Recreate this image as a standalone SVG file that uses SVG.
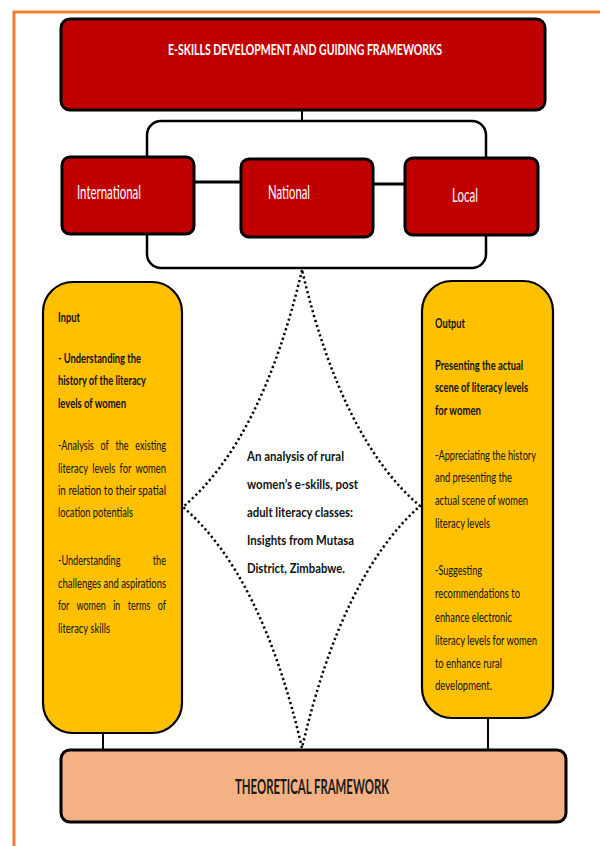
<svg xmlns="http://www.w3.org/2000/svg" width="600" height="846" viewBox="0 0 600 846">
<style>
.red{fill:#C00000;stroke:#000;stroke-width:3}
.yel{fill:#FFC000;stroke:#000;stroke-width:2.2}
.sal{fill:#F4B183;stroke:#000;stroke-width:3}
.ln{stroke:#000;stroke-width:2;fill:none}
.wt{font-family:Lato,"Liberation Sans",sans-serif;fill:#fff}
.bt{font-family:Lato,"Liberation Sans",sans-serif;fill:#111;font-size:14px}
.b{font-weight:bold}
</style>
<rect width="600" height="846" fill="#fff"/>
<path d="M14,846 V12 H600" fill="none" stroke="#ED7D31" stroke-width="3"/>
<g id="connectors">
<line class="ln" x1="302" y1="110" x2="302" y2="121"/>
<rect x="147" y="121" width="339" height="147" rx="14" fill="none" stroke="#000" stroke-width="2.5"/>
<line x1="194" y1="182" x2="241" y2="182" stroke="#000" stroke-width="3"/>
<line x1="373" y1="184" x2="405" y2="184" stroke="#000" stroke-width="3"/>
<line class="ln" x1="103" y1="733" x2="103" y2="750"/>
<line class="ln" x1="488" y1="718" x2="488" y2="750"/>
</g>
<g id="top">
<rect class="red" x="61" y="19" width="484" height="91" rx="9"/>
<text class="wt b" x="305" y="55" text-anchor="middle" font-size="16" textLength="274" lengthAdjust="spacingAndGlyphs">E-SKILLS DEVELOPMENT AND GUIDING FRAMEWORKS</text>
</g>
<g id="international">
<rect class="red" x="62" y="157" width="132" height="77" rx="8"/>
<text class="wt" x="77" y="199" font-size="19" textLength="64" lengthAdjust="spacingAndGlyphs">International</text>
</g>
<g id="national">
<rect class="red" x="241" y="159" width="132" height="78" rx="8"/>
<text class="wt" x="268" y="199" font-size="19" textLength="42" lengthAdjust="spacingAndGlyphs">National</text>
</g>
<g id="local">
<rect class="red" x="405" y="158" width="133" height="77" rx="8"/>
<text class="wt" x="452" y="202" font-size="19" textLength="26" lengthAdjust="spacingAndGlyphs">Local</text>
</g>
<g id="input">
<rect class="yel" x="43" y="282" width="139" height="451" rx="30"/>
<text class="bt b" x="58" y="322" textLength="22" lengthAdjust="spacingAndGlyphs">Input</text>
<text class="bt b" x="58" y="363" textLength="83" lengthAdjust="spacingAndGlyphs">- Understanding the</text>
<text class="bt b" x="58" y="385" textLength="88" lengthAdjust="spacingAndGlyphs">history of the literacy</text>
<text class="bt b" x="58" y="408" textLength="68" lengthAdjust="spacingAndGlyphs">levels of women</text>
<text class="bt" x="58" y="450" word-spacing="7" textLength="108" lengthAdjust="spacingAndGlyphs">-Analysis of the existing</text>
<text class="bt" x="58" y="473" word-spacing="3" textLength="108" lengthAdjust="spacingAndGlyphs">literacy levels for women</text>
<text class="bt" x="58" y="495" textLength="108" lengthAdjust="spacingAndGlyphs">in relation to their spatial</text>
<text class="bt" x="58" y="517" textLength="75" lengthAdjust="spacingAndGlyphs">location potentials</text>
<text class="bt" x="58" y="565" word-spacing="46" textLength="108" lengthAdjust="spacingAndGlyphs">-Understanding the</text>
<text class="bt" x="58" y="588" textLength="108" lengthAdjust="spacingAndGlyphs">challenges and aspirations</text>
<text class="bt" x="58" y="610" word-spacing="8" textLength="108" lengthAdjust="spacingAndGlyphs">for women in terms of</text>
<text class="bt" x="58" y="633" textLength="52" lengthAdjust="spacingAndGlyphs">literacy skills</text>
</g>
<g id="output">
<rect class="yel" x="422" y="281" width="131" height="437" rx="30"/>
<text class="bt b" x="435" y="328" textLength="30" lengthAdjust="spacingAndGlyphs">Output</text>
<text class="bt b" x="435" y="370" textLength="88" lengthAdjust="spacingAndGlyphs">Presenting the actual</text>
<text class="bt b" x="435" y="392" textLength="93" lengthAdjust="spacingAndGlyphs">scene of literacy levels</text>
<text class="bt b" x="435" y="415" textLength="46" lengthAdjust="spacingAndGlyphs">for women</text>
<text class="bt" x="435" y="460" textLength="101" lengthAdjust="spacingAndGlyphs">-Appreciating the history</text>
<text class="bt" x="435" y="482" textLength="77" lengthAdjust="spacingAndGlyphs">and presenting the</text>
<text class="bt" x="435" y="505" textLength="93" lengthAdjust="spacingAndGlyphs">actual scene of women</text>
<text class="bt" x="435" y="528" textLength="55" lengthAdjust="spacingAndGlyphs">literacy levels</text>
<text class="bt" x="435" y="575" textLength="47" lengthAdjust="spacingAndGlyphs">-Suggesting</text>
<text class="bt" x="435" y="598" textLength="85" lengthAdjust="spacingAndGlyphs">recommendations to</text>
<text class="bt" x="435" y="622" textLength="77" lengthAdjust="spacingAndGlyphs">enhance electronic</text>
<text class="bt" x="435" y="645" textLength="102" lengthAdjust="spacingAndGlyphs">literacy levels for women</text>
<text class="bt" x="435" y="668" textLength="67" lengthAdjust="spacingAndGlyphs">to enhance rural</text>
<text class="bt" x="435" y="690" textLength="57" lengthAdjust="spacingAndGlyphs">development.</text>
</g>
<g id="theoretical">
<rect class="sal" x="61" y="750" width="505" height="72" rx="9"/>
<text x="235" y="794" font-family="Lato,'Liberation Sans',sans-serif" font-weight="bold" font-size="20" fill="#1a1a1a" textLength="154" lengthAdjust="spacingAndGlyphs">THEORETICAL FRAMEWORK</text>
</g>
<g id="center">
<path d="M302,270 Q262,440 183,507 Q262,575 302,748 Q342,575 420,506 Q342,440 302,270 Z" fill="none" stroke="#000" stroke-width="2.5" stroke-dasharray="2.2 2.8"/>
<text class="bt b" x="247" y="461" font-size="16" textLength="97" lengthAdjust="spacingAndGlyphs">An analysis of rural</text>
<text class="bt b" x="247" y="489" font-size="16" textLength="111" lengthAdjust="spacingAndGlyphs">women’s e-skills, post</text>
<text class="bt b" x="247" y="517" font-size="16" textLength="106" lengthAdjust="spacingAndGlyphs">adult literacy classes:</text>
<text class="bt b" x="247" y="545" font-size="16" textLength="107" lengthAdjust="spacingAndGlyphs">Insights from Mutasa</text>
<text class="bt b" x="247" y="573" font-size="16" textLength="98" lengthAdjust="spacingAndGlyphs">District, Zimbabwe.</text>
</g>
</svg>
